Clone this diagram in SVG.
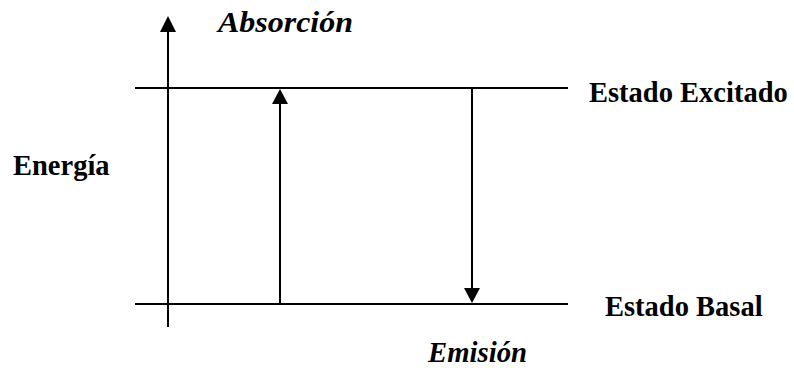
<svg xmlns="http://www.w3.org/2000/svg" width="794" height="368" viewBox="0 0 794 368">
<style>
.ln{stroke:#000;stroke-width:2;fill:none}
.t{font-family:"Liberation Serif","Times New Roman",serif;font-weight:bold;font-size:28.5px;fill:#000}
.i{font-family:"Liberation Serif",serif;font-style:italic}
</style>
<g id="connectors">
<line id="axis" class="ln" x1="168" y1="327" x2="168" y2="20"/>
<path d="M160,32 L168,16 L176,32 Z" fill="#000"/>
<line id="excited-level" class="ln" x1="135" y1="88" x2="568" y2="88"/>
<line id="ground-level" class="ln" x1="135" y1="304" x2="568" y2="304"/>
<line id="absorption" class="ln" x1="280" y1="304" x2="280" y2="100"/>
<path d="M272,104 L280,89 L288,104 Z" fill="#000"/>
<line id="emission" class="ln" x1="472" y1="88" x2="472" y2="290"/>
<path d="M464,288 L472,303 L480,288 Z" fill="#000"/>
</g>
<g id="label-absorcion"><text class="t i" x="218" y="32" textLength="135" lengthAdjust="spacingAndGlyphs">Absorción</text></g>
<g id="label-emision"><text class="t i" x="428" y="362" textLength="99" lengthAdjust="spacingAndGlyphs">Emisión</text></g>
<g id="label-energia"><text class="t" x="13" y="175">Energía</text></g>
<g id="label-excitado"><text class="t" x="589" y="102">Estado Excitado</text></g>
<g id="label-basal"><text class="t" x="605" y="316">Estado Basal</text></g>
</svg>
